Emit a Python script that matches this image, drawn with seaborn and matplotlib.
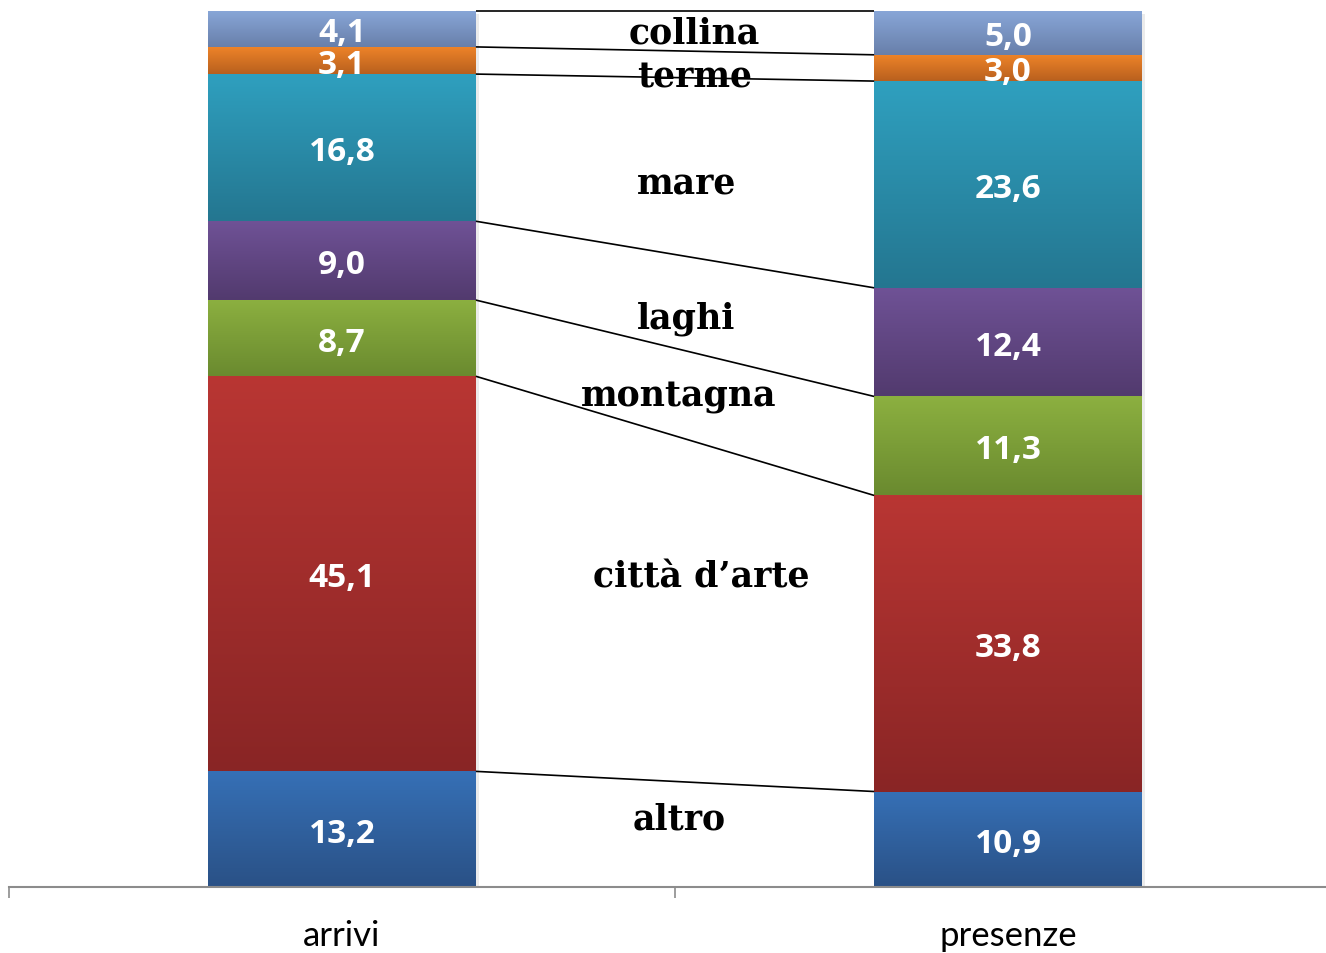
import numpy as np
import pandas as pd
import matplotlib
matplotlib.use("Agg")
import matplotlib.pyplot as plt
import matplotlib.patheffects as pe
from matplotlib.colors import to_rgb
import seaborn as sns

# ---- data ----
categories = ["arrivi", "presenze"]
series = ["altro", "città d\u2019arte", "montagna", "laghi", "mare", "terme", "collina"]
arrivi = [13.2, 45.1, 8.7, 9.0, 16.8, 3.1, 4.1]
presenze = [10.9, 33.8, 11.3, 12.4, 23.6, 3.0, 5.0]

# ---- styles ----
top_colors = ["#3670B6", "#B93633", "#8CB040", "#6F5296", "#2FA0BF", "#EF8429", "#88A6D7"]
bot_colors = ["#2A5186", "#892525", "#6A8A2F", "#523A6E", "#247690", "#B8601E", "#687FAA"]
# series-name label positions (x in category units, y in %)
name_pos = {
    "altro": (0.506, 8.2),
    "città d\u2019arte": (0.539, 35.9),
    "montagna": (0.505, 56.5),
    "laghi": (0.517, 65.4),
    "mare": (0.517, 80.7),
    "terme": (0.529, 92.9),
    "collina": (0.529, 97.9),
}

sns.set_theme(style="white")
plt.rcParams["font.family"] = ["Lato", "DejaVu Sans"]

W, H = 1326, 954
fig = plt.figure(figsize=(W / 100, H / 100), dpi=100)
ax = fig.add_axes([9 / W, 66 / H, 1332 / W, 876 / H])

bar_w = 0.402
vals = np.array([arrivi, presenze])  # shape (2, n_series)
bottoms = np.zeros(2)
for i, name in enumerate(series):
    sns.barplot(x=categories, y=vals[:, i], bottom=bottoms.copy(), color=top_colors[i],
                saturation=1, width=bar_w, linewidth=0, ax=ax, zorder=2)
    bottoms = bottoms + vals[:, i]

ax.set_xlim(-0.5, 1.5)
ax.set_ylim(0, 100)

# gradient fills + shadow
for ci, cont in enumerate(ax.containers):
    c_top = np.array(to_rgb(top_colors[ci]))
    c_bot = np.array(to_rgb(bot_colors[ci]))
    t = np.linspace(0, 1, 256)[:, None]
    grad = (c_top[None, :] * (1 - t) + c_bot[None, :] * t)[:, None, :]
    for p in cont.patches:
        x, y = p.get_x(), p.get_y()
        w, h = p.get_width(), p.get_height()
        im = ax.imshow(grad, extent=[x, x + w, y, y + h], origin="upper",
                       aspect="auto", zorder=2.5, interpolation="bilinear")
        im.set_clip_path(p)
        p.set_path_effects([pe.SimplePatchShadow(offset=(2, -2), shadow_rgbFace="#000000", alpha=0.08),
                            pe.Normal()])

ax.set_xlim(-0.5, 1.5)
ax.set_ylim(0, 100)

# connecting lines between the bars at each segment top
cum_a = np.cumsum(arrivi)
cum_p = np.cumsum(presenze)
for a, b in zip(cum_a, cum_p):
    ax.plot([0 + bar_w / 2, 1 - bar_w / 2], [a, b], color="black", lw=1.2, zorder=3,
            solid_capstyle="butt", clip_on=False)

# value labels
for ci, cont in enumerate(ax.containers):
    for j, p in enumerate(cont.patches):
        v = vals[j, ci]
        cy = p.get_y() + p.get_height() / 2
        ax.text(p.get_x() + p.get_width() / 2, cy, f"{v:.1f}".replace(".", ","),
                ha="center", va="center_baseline", color="white", fontsize=24,
                fontweight="bold", family=["Open Sans", "DejaVu Sans"], zorder=4)

# series name labels
for name in series:
    x, y = name_pos[name]
    ax.text(x, y, name, ha="center", va="center_baseline", fontsize=25, fontweight="bold",
            family=["DejaVu Serif"], color="black", zorder=4)

# axes styling
for s in ["left", "right", "top"]:
    ax.spines[s].set_visible(False)
ax.spines["bottom"].set_color("#8C8C8C")
ax.spines["bottom"].set_linewidth(1.5)
ax.set_yticks([])
ax.set_xticks([0, 1])
ax.set_xticklabels(categories, fontsize=25, color="black")
ax.set_xticks([-0.5, 0.5, 1.5], minor=True)
ax.tick_params(axis="x", which="major", length=0, pad=23)
ax.tick_params(axis="x", which="minor", length=8, width=1.2, color="#8C8C8C", bottom=True, direction="out")
ax.set_xlabel("")
ax.set_ylabel("")

fig.savefig("out.png", dpi=100, facecolor="white")
